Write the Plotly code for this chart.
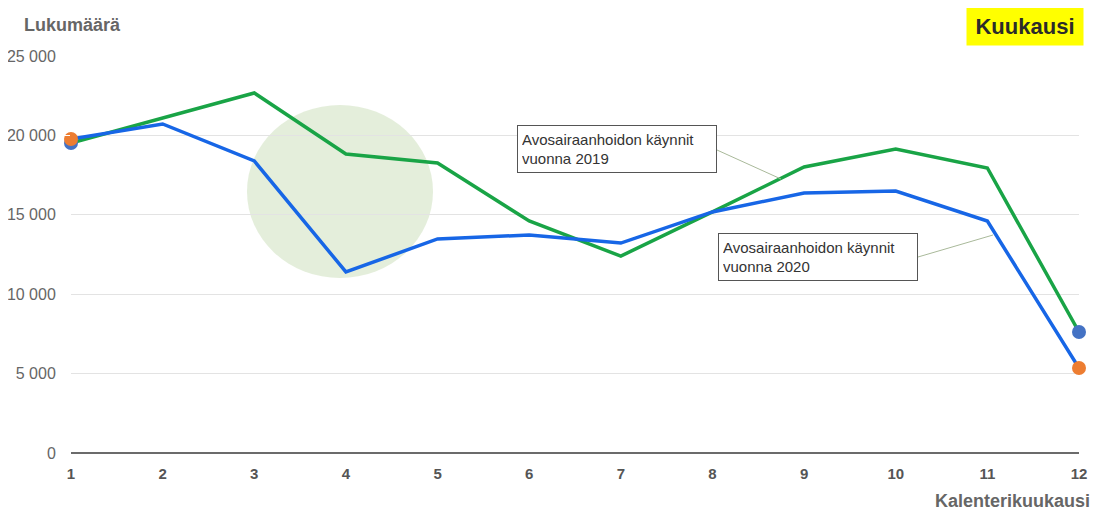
import plotly.graph_objects as go

months = list(range(1, 13))
visits_2019 = [19520, 21100, 22670, 18830, 18260, 14610, 12400, 15180, 18010, 19140, 17950, 7620]
visits_2020 = [19770, 20720, 18390, 11400, 13480, 13730, 13220, 15180, 16370, 16500, 14610, 5350]
y_ticks = [0, 5000, 10000, 15000, 20000, 25000]
y_ticktext = ["0", "5 000", "10 000", "15 000", "20 000", "25 000"]
label_2019 = "Avosairaanhoidon käynnit<br>vuonna 2019"
label_2020 = "Avosairaanhoidon käynnit<br>vuonna 2020"

W, H = 1105, 511          # screenshot size
OFF = 8                   # page body margin
L, R, T, B = 71, 26, 56, 58   # plot area in screenshot pixels
PW = W - L - R
PH = H - B - T


def px2x(px):
    return 1 + (px - L) / PW * 11


def px2y(py):
    return (H - B - py) / PH * 25000


def pxx(px):
    return (px - L) / PW


def pxy(py):
    return (H - B - py) / PH


GREEN = "#19a446"
BLUE = "#1766e6"
ORANGE = "#ed7d31"
DOTBLUE = "#4472c4"

fig = go.Figure()
fig.add_trace(go.Scatter(x=months, y=visits_2019, mode="lines",
                         line=dict(color=GREEN, width=3.5), hoverinfo="skip"))
fig.add_trace(go.Scatter(x=months, y=visits_2020, mode="lines",
                         line=dict(color=BLUE, width=3.5), hoverinfo="skip"))
# end-point markers
fig.add_trace(go.Scatter(x=[months[0], months[-1]], y=[visits_2019[0], visits_2019[-1]],
                         mode="markers", marker=dict(color=DOTBLUE, size=14), cliponaxis=False))
fig.add_trace(go.Scatter(x=[months[0], months[-1]], y=[visits_2020[0], visits_2020[-1]],
                         mode="markers", marker=dict(color=ORANGE, size=14), cliponaxis=False))

# highlight circle
fig.add_shape(type="circle", xref="x", yref="y",
              x0=px2x(247), x1=px2x(433), y0=px2y(278), y1=px2y(105),
              fillcolor="rgba(205,224,190,0.55)", line=dict(width=0), layer="below")

# pointer lines
fig.add_shape(type="line", x0=px2x(717), y0=px2y(150), x1=px2x(781), y1=px2y(179),
              line=dict(color="#a9b99a", width=1))
fig.add_shape(type="line", x0=px2x(918), y0=px2y(257), x1=px2x(993), y1=px2y(235),
              line=dict(color="#a9b99a", width=1))

box_font = dict(family="Liberation Sans, Arial", size=15, color="#333333")
fig.add_annotation(x=px2x(517), y=px2y(125), xanchor="left", yanchor="top",
                   text=label_2019, showarrow=False, align="left", font=box_font,
                   bgcolor="white", bordercolor="#555555", borderwidth=1, borderpad=4,
                   width=190, height=38)
fig.add_annotation(x=px2x(718), y=px2y(233), xanchor="left", yanchor="top",
                   text=label_2020, showarrow=False, align="left", font=box_font,
                   bgcolor="white", bordercolor="#555555", borderwidth=1, borderpad=4,
                   width=190, height=38)

# titles
fig.add_annotation(xref="paper", yref="paper", x=pxx(22), y=pxy(25),
                   xanchor="left", yanchor="middle", text="<b>Lukumäärä</b>", showarrow=False,
                   font=dict(family="Liberation Sans, Arial", size=18, color="#666666"))
fig.add_annotation(xref="paper", yref="paper", x=pxx(1092), y=pxy(501),
                   xanchor="right", yanchor="middle", text="<b>Kalenterikuukausi</b>", showarrow=False,
                   font=dict(family="Liberation Sans, Arial", size=18, color="#666666"))
fig.add_annotation(xref="paper", yref="paper", x=pxx(1084), y=pxy(26),
                   xanchor="right", yanchor="middle", text="<b>Kuukausi</b>", showarrow=False,
                   font=dict(family="Liberation Sans, Arial", size=22, color="#2b2b2b"),
                   bgcolor="#ffff00", borderpad=6, width=104, height=26)

fig.update_layout(
    width=W - OFF, height=H - OFF,
    margin=dict(l=L - OFF, r=R, t=T - OFF, b=B, autoexpand=False),
    paper_bgcolor="white", plot_bgcolor="white",
    showlegend=False,
    font=dict(family="Liberation Sans, Arial", color="#666666"),
    xaxis=dict(range=[1, 12], tickvals=months, ticktext=[f"<b>{m}</b>" for m in months],
               showgrid=False, zeroline=False, showline=False, automargin=False,
               tickfont=dict(size=15, color="#555555"), ticks="outside", ticklen=7,
               tickcolor="white", fixedrange=True),
    yaxis=dict(range=[0, 25000], tickvals=y_ticks, ticktext=y_ticktext,
               showgrid=True, gridcolor="#e3e3e3", gridwidth=1,
               zeroline=True, zerolinecolor="#6b6b6b", zerolinewidth=2,
               showline=False, automargin=False, tickfont=dict(size=16, color="#666666"),
               ticks="outside", ticklen=11, tickcolor="white", fixedrange=True),
)

fig.write_html("out.html")
